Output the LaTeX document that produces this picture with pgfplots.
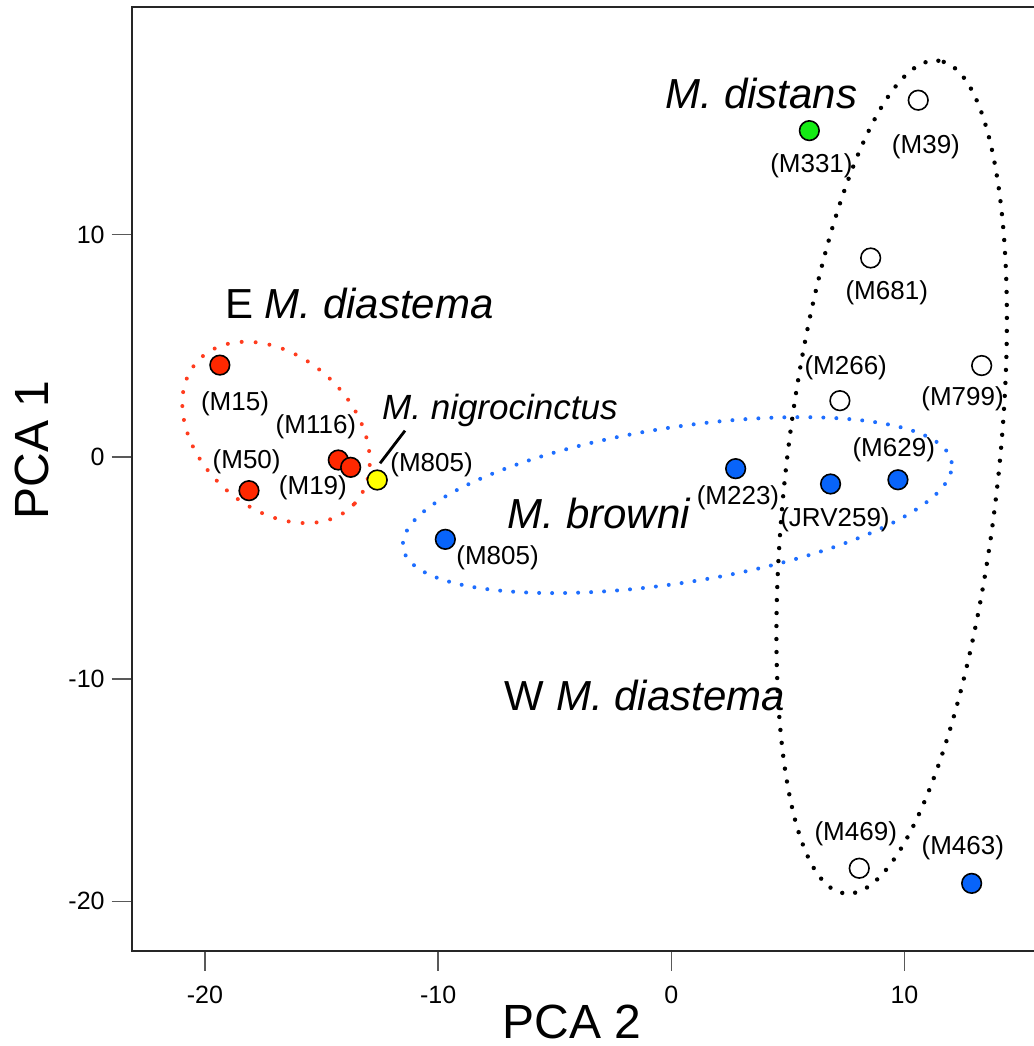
\documentclass[border=0pt]{standalone}
\usepackage{fontspec}
\setmainfont{Liberation Sans}
\usepackage{pgfplots}
\pgfplotsset{compat=1.18}
\usetikzlibrary{shapes.geometric}
\definecolor{mred}{RGB}{255,40,0}
\definecolor{mblue}{RGB}{8,100,250}
\definecolor{mgreen}{RGB}{20,235,20}
\definecolor{myellow}{RGB}{255,255,0}
\definecolor{ered}{RGB}{255,60,30}
\definecolor{eblue}{RGB}{30,110,255}
\begin{document}
\begin{tikzpicture}
\begin{axis}[
  scale only axis, width=452.15pt, height=471.7pt,
  xmin=-23.14, xmax=15.64, ymin=-22.22, ymax=20.23,
  clip=false,
  axis line style={line width=1pt, black!85},
  xtick={-20,-10,0,10}, xticklabels={-20,-10,0,10},
  ytick={-20,-10,0,10}, yticklabels={-20,-10,0,10},
  xtick pos=bottom, ytick pos=left,
  tick align=outside, major tick length=10pt,
  tick style={black!65, line width=0.7pt},
  tick label style={font=\fontsize{12.5}{12.5}\selectfont},
  xticklabel style={yshift=-4pt},
  xlabel={PCA 2}, ylabel={PCA 1},
  label style={font=\fontsize{24}{24}\selectfont},
  xlabel style={at={(axis description cs:0.487,-0.0756)}, anchor=center},
  ylabel style={at={(axis description cs:-0.110,0.531)}, anchor=center, rotate=0},
]
\coordinate (A) at (rel axis cs:0,0);
\coordinate (B) at (rel axis cs:1,1);
% group ellipses
\node[draw=ered, ellipse, line width=2pt, line cap=round, dash pattern=on 0pt off 7pt,
  minimum width=106pt, minimum height=76pt, inner sep=0pt, rotate=-42] at (axis cs:-16.95,1.10) {};
\node[draw=eblue, ellipse, line width=2pt, line cap=round, dash pattern=on 0pt off 6.5pt,
  minimum width=277.6pt, minimum height=77.7pt, inner sep=0pt, rotate=8.9] at (axis cs:0.26,-2.17) {};
\node[draw=black, ellipse, line width=2.2pt, line cap=round, dash pattern=on 0pt off 6.5pt,
  minimum width=419pt, minimum height=106pt, inner sep=0pt, rotate=83.6] at (axis cs:9.45,-0.91) {};
% pointer line
\draw[line width=1.4pt] (axis cs:-12.49,-0.29) -- (axis cs:-11.42,1.18);
% points
\addplot[only marks, mark=*, mark size=4.9pt, mark options={fill=mred, draw=black, line width=0.8pt}]
  coordinates {(-19.36,4.13) (-18.11,-1.52) (-14.28,-0.14) (-13.75,-0.47)};
\addplot[only marks, mark=*, mark size=4.9pt, mark options={fill=myellow, draw=black, line width=0.8pt}]
  coordinates {(-12.61,-1.04)};
\addplot[only marks, mark=*, mark size=4.9pt, mark options={fill=mblue, draw=black, line width=0.8pt}]
  coordinates {(-9.69,-3.71) (2.76,-0.53) (6.83,-1.22) (9.72,-1.03) (12.88,-19.19)};
\addplot[only marks, mark=*, mark size=4.9pt, mark options={fill=mgreen, draw=black, line width=0.8pt}]
  coordinates {(5.92,14.68)};
\addplot[only marks, mark=*, mark size=4.9pt, mark options={fill=white, draw=black, line width=0.8pt}]
  coordinates {(10.59,16.05) (8.55,8.95) (7.23,2.53) (13.31,4.11) (8.06,-18.51)};
% sample labels
\begin{scope}[every node/.style={font=\fontsize{13}{13}\selectfont, inner sep=0pt, anchor=center}]
\node at (axis cs:-18.71,2.41) {(M15)};
\node at (axis cs:-15.24,1.36) {(M116)};
\node at (axis cs:-18.21,-0.22) {(M50)};
\node at (axis cs:-15.37,-1.41) {(M19)};
\node at (axis cs:-10.28,-0.37) {(M805)};
\node at (axis cs:-7.45,-4.56) {(M805)};
\node at (axis cs:2.86,-1.86) {(M223)};
\node at (axis cs:7.02,-2.82) {(JRV259)};
\node at (axis cs:9.54,0.34) {(M629)};
\node at (axis cs:6.01,13.11) {(M331)};
\node at (axis cs:10.92,13.94) {(M39)};
\node at (axis cs:9.24,7.39) {(M681)};
\node at (axis cs:7.48,4.03) {(M266)};
\node at (axis cs:12.49,2.60) {(M799)};
\node at (axis cs:7.91,-16.95) {(M469)};
\node at (axis cs:12.50,-17.61) {(M463)};
\end{scope}
% group labels
\begin{scope}[every node/.style={font=\fontsize{21}{21}\selectfont, inner sep=0pt, anchor=base}]
\node at (axis cs:-13.38,6.23) {E \itshape M. diastema};
\node[font=\fontsize{17.5}{17.5}\selectfont\itshape] at (axis cs:-7.35,1.66) {M. nigrocinctus};
\node[font=\fontsize{21}{21}\selectfont\itshape] at (axis cs:3.87,15.68) {M. distans};
\node[font=\fontsize{21}{21}\selectfont\itshape] at (axis cs:-3.10,-3.21) {M. browni};
\node at (axis cs:-1.13,-11.41) {W \itshape M. diastema};
\end{scope}
\end{axis}
\pgfresetboundingbox
\useasboundingbox ([shift={(-65.85pt,-47.65pt)}]A) rectangle ([shift={(-1pt,3.65pt)}]B);
\end{tikzpicture}
\end{document}
